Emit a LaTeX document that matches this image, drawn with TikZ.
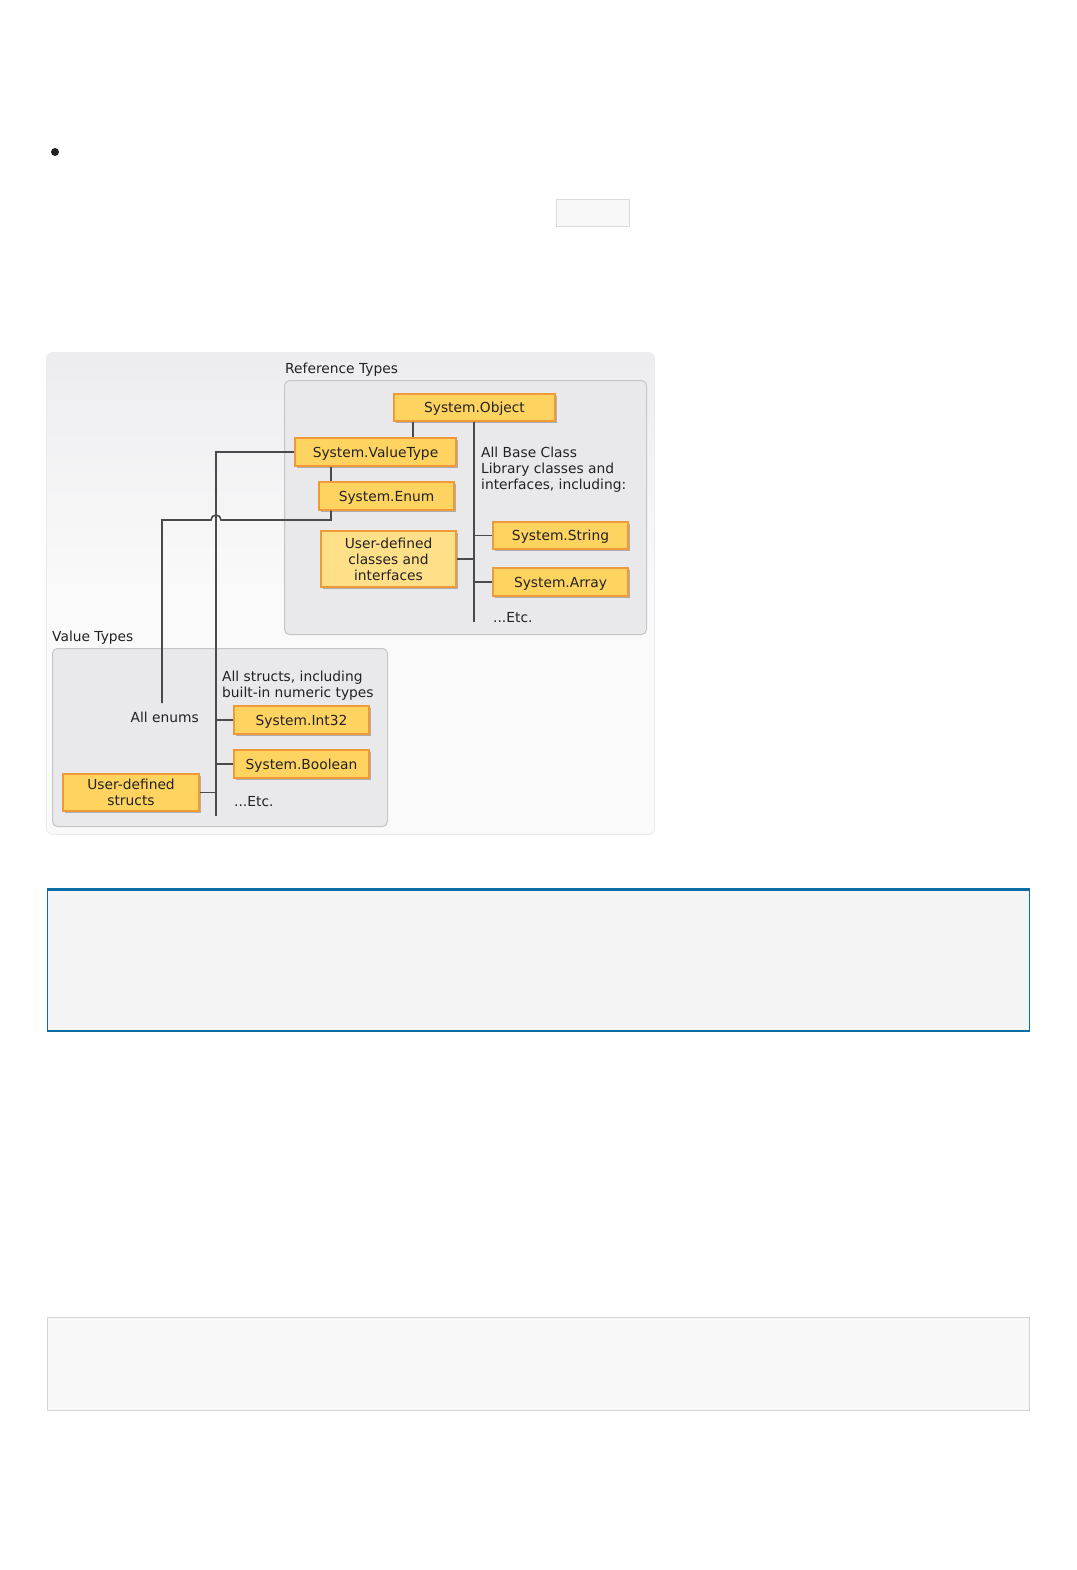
\documentclass[tikz,border=0pt]{standalone}
\usepackage{fontspec}
\setmainfont{DejaVu Sans}
\usetikzlibrary{shadows}
\definecolor{boxfill}{HTML}{FFD35F}
\definecolor{boxfilllight}{HTML}{FFDF88}
\definecolor{boxdraw}{HTML}{EE9A3A}
\definecolor{linec}{HTML}{4A4A4A}
\definecolor{groupfill}{HTML}{E9E9EC}
\definecolor{groupdraw}{HTML}{C6C6C8}
\definecolor{paneltop}{HTML}{EDEDF0}
\definecolor{panelbot}{HTML}{FAFAFA}
\definecolor{noteblue}{HTML}{0A6EA6}
\definecolor{notefill}{HTML}{F4F4F4}
\definecolor{codefill}{HTML}{F8F8F8}
\definecolor{codedraw}{HTML}{D2D2D2}
\definecolor{textc}{HTML}{222222}
\begin{document}
\begin{tikzpicture}[x=1pt,y=-1pt,
  ybox/.style={draw=boxdraw, fill=boxfill, line width=1.3pt, inner sep=0pt,
    font=\fontsize{13.8}{16}\selectfont, text=textc, align=center, text depth=0pt,
    drop shadow={shadow xshift=1.5pt, shadow yshift=-1.5pt, opacity=0.25, fill=black}},
  lbl/.style={font=\fontsize{13.8}{16}\selectfont, text=textc, inner sep=0pt, align=left, text depth=0pt},
  conn/.style={draw=linec, line width=1.6pt},
  group/.style={draw=groupdraw, fill=groupfill, line width=1pt, rounded corners=5pt}]
\useasboundingbox (0,0) rectangle (1076,1570);
\fill[white] (0,0) rectangle (1076,1570);
% bullet and small box
\fill[textc] (55,152) circle (4pt);
\draw[codedraw!80, fill=codefill, line width=0.8pt] (556.5,199.5) rectangle (629.5,226.5);
% outer panel
\shade[top color=paneltop, bottom color=panelbot, middle color=panelbot, rounded corners=6pt]
  (46.5,352.5) rectangle (654.5,834.5);
\draw[draw=black!8, line width=0.8pt, rounded corners=6pt] (46.5,352.5) rectangle (654.5,834.5);
% groups
\draw[group] (284.5,380.5) rectangle (646.5,634.5);
\draw[group] (52.5,648.5) rectangle (387.5,826.5);
\node[lbl, anchor=west] (reflbl) at (285,368) {Reference Types};
\node[lbl, anchor=west] (vallbl) at (52,636) {Value Types};
% boxes
\node[ybox, minimum width=161pt, minimum height=27pt] (obj) at (474.5,407.5) {System.Object};
\node[ybox, minimum width=161pt, minimum height=28pt] (vt) at (375.5,452) {System.ValueType};
\node[ybox, minimum width=135pt, minimum height=28pt] (en) at (386.5,496) {System.Enum};
\node[ybox, fill=boxfilllight, minimum width=135pt, minimum height=56pt] (udc) at (388.5,559) {User-defined\\classes and\\interfaces};
\node[ybox, minimum width=135pt, minimum height=27pt] (str) at (560.5,535.5) {System.String};
\node[ybox, minimum width=135pt, minimum height=28pt] (arr) at (560.5,582) {System.Array};
\node[ybox, minimum width=135pt, minimum height=28pt] (int) at (301.5,720) {System.Int32};
\node[ybox, minimum width=135pt, minimum height=28pt] (bool) at (301.5,764) {System.Boolean};
\node[ybox, minimum width=136pt, minimum height=37pt] (uds) at (131,792.5) {User-defined\\structs};
% labels
\node[lbl, anchor=north west] (bcl) at (481,446.75) {All Base Class\\Library classes and\\interfaces, including:};
\node[lbl, anchor=west] (etcR) at (493,617) {...Etc.};
\node[lbl, anchor=north west] (alls) at (222,670.75) {All structs, including\\built-in numeric types};
\node[lbl, anchor=east] (enums) at (199,717) {All enums};
\node[lbl, anchor=west] (etcV) at (234,801) {...Etc.};
% coordinates
\coordinate (cOV) at (413,0);
\coordinate (busR) at (474,0);
\coordinate (busRend) at (474,622);
\coordinate (busV) at (216,0);
\coordinate (busVend) at (216,816);
\coordinate (cVE) at (331,0);
\coordinate (ey) at (0,520);
\coordinate (busE) at (162,0);
\coordinate (busEend) at (162,703);
% connectors
\draw[conn] (obj.south -| cOV) -- (vt.north -| cOV);
\draw[conn] (obj.south -| busR) -- (busRend);
\draw[conn] (str.west) -- (str.west -| busR);
\draw[conn] (arr.west) -- (arr.west -| busR);
\draw[conn] (udc.east) -- (udc.east -| busR);
\draw[conn] (vt.west) -- (vt.west -| busV) -- (busVend);
\draw[conn] (vt.south -| cVE) -- (en.north -| cVE);
\draw[conn] (en.south -| cVE) -- (cVE |- ey) -- (221,520) arc[start angle=0, end angle=180, radius=5pt] -- (ey -| busE) -- (busEend);
\draw[conn] (int.west) -- (int.west -| busV);
\draw[conn] (bool.west) -- (bool.west -| busV);
\draw[conn] (uds.east) -- (uds.east -| busV);
% note box
\fill[notefill] (47,888) rectangle (1030,1032);
\draw[noteblue, line width=1pt] (47.5,888) -- (47.5,1032) (1029.5,888) -- (1029.5,1032);
\draw[noteblue, line width=2.5pt] (47,889.25) -- (1030,889.25) (47,1030.75) -- (1030,1030.75);
% code box
\draw[codedraw, fill=codefill, line width=1pt] (47.5,1317.5) rectangle (1029.5,1410.5);
\end{tikzpicture}
\end{document}
